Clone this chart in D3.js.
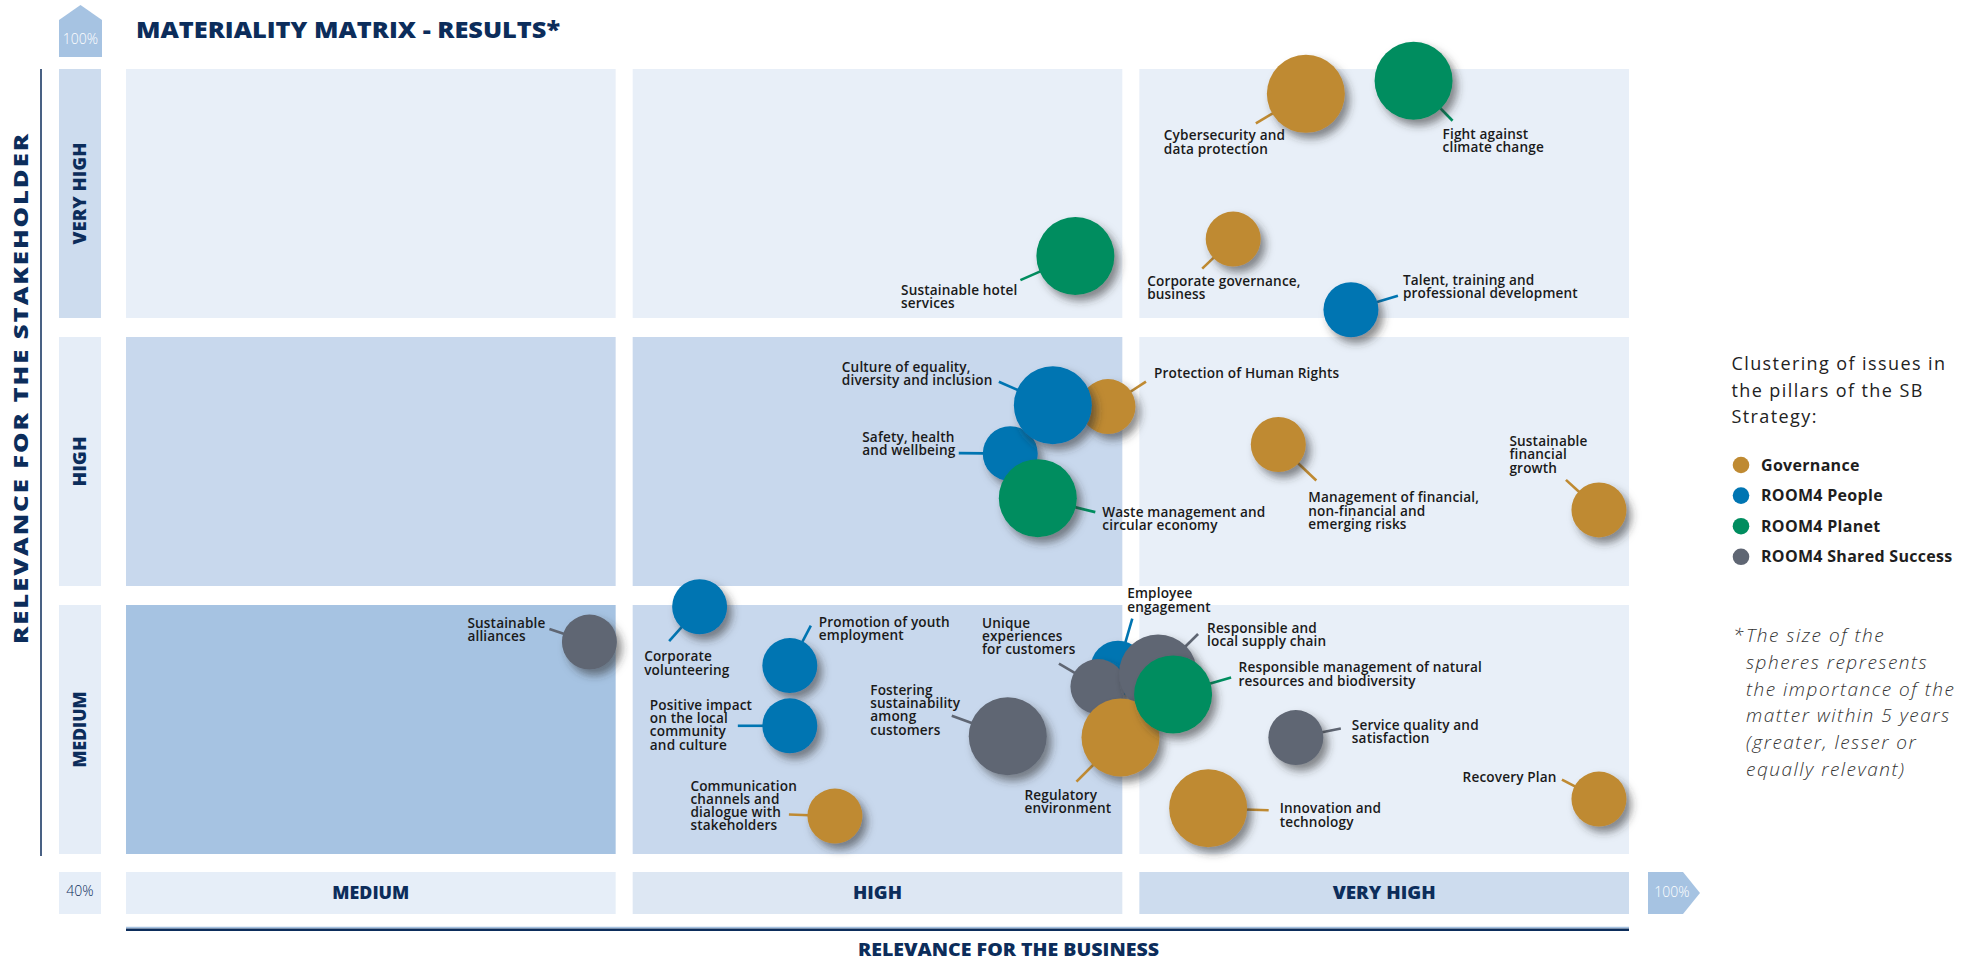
<!DOCTYPE html>
<html><head><meta charset="utf-8">
<script src="https://cdn.jsdelivr.net/npm/d3@7"></script>
<style>
body{margin:0;background:#fff;}
svg{display:block;font-family:"Open Sans","Noto Sans",sans-serif;}
</style></head><body>
<svg id="chart" width="1979" height="960"></svg>
<script>
// ---------- DATA ----------
const levels = ["MEDIUM", "HIGH", "VERY HIGH"];
const axisDomain = [40, 100];           // % relevance
const axisEndLabels = ["40%", "100%"];
const pillars = ["Governance", "ROOM4 People", "ROOM4 Planet", "ROOM4 Shared Success"];
const pillarColors = ["#bf8a32", "#0075b2", "#008d5f", "#5f6673"];

const issues = [
  "Sustainable\nalliances",
  "Corporate\nvolunteering",
  "Promotion of youth\nemployment",
  "Positive impact\non the local\ncommunity\nand culture",
  "Communication\nchannels and\ndialogue with\nstakeholders",
  "Fostering\nsustainability\namong\ncustomers",
  "Employee\nengagement",
  "Unique\nexperiences\nfor customers",
  "Responsible and\nlocal supply chain",
  "Regulatory\nenvironment",
  "Responsible management of natural\nresources and biodiversity",
  "Innovation and\ntechnology",
  "Service quality and\nsatisfaction",
  "Recovery Plan",
  "Protection of Human Rights",
  "Safety, health\nand wellbeing",
  "Culture of equality,\ndiversity and inclusion",
  "Waste management and\ncircular economy",
  "Management of financial,\nnon-financial and\nemerging risks",
  "Sustainable\nfinancial\ngrowth",
  "Sustainable hotel\nservices",
  "Corporate governance,\nbusiness",
  "Talent, training and\nprofessional development",
  "Cybersecurity and\ndata protection",
  "Fight against\nclimate change"
];
const issuePillar = [
  "ROOM4 Shared Success", "ROOM4 People", "ROOM4 People", "ROOM4 People", "Governance",
  "ROOM4 Shared Success", "ROOM4 People", "ROOM4 Shared Success", "ROOM4 Shared Success", "Governance",
  "ROOM4 Planet", "Governance", "ROOM4 Shared Success", "Governance", "Governance",
  "ROOM4 People", "ROOM4 People", "ROOM4 Planet", "Governance", "Governance",
  "ROOM4 Planet", "Governance", "ROOM4 People", "Governance", "ROOM4 Planet"
];
const businessRelevance = [58.5, 62.9, 66.5, 66.5, 68.3, 75.2, 79.6, 78.8, 81.2, 79.7, 81.8, 83.2, 86.7, 98.8, 79.2, 75.3, 77.0, 76.4, 86.0, 98.8, 77.9, 84.2, 88.9, 87.1, 91.4];
const stakeholderRelevance = [56.2, 58.9, 54.4, 49.8, 42.9, 49.0, 54.2, 52.8, 53.8, 48.9, 52.2, 43.5, 48.9, 44.2, 74.2, 70.6, 74.3, 67.2, 71.3, 66.3, 85.7, 87.0, 81.6, 98.1, 99.1];
const futureImportance = [
  "equal", "equal", "equal", "equal", "equal",
  "greater", "equal", "equal", "greater", "greater",
  "greater", "greater", "equal", "equal", "equal",
  "equal", "greater", "greater", "equal", "equal",
  "greater", "equal", "equal", "greater", "greater"
];

// annotation layout: [leader end dx, leader end dy, text dx, text dy, anchor] relative to bubble centre
const labelLayout = [
  [-40, -13, -122, -14.5, "start"],
  [-30.5, 34.5, -55.5, 54.5, "start"],
  [21, -40, 29, -39, "start"],
  [-52, 0, -140, -16, "start"],
  [-46, -1.5, -144.5, -25.5, "start"],
  [-56, -20.5, -137.5, -41.5, "start"],
  [14.3, -49.7, 9.3, -70, "start"],
  [-39, -23, -116, -59, "start"],
  [40, -39.5, 49, -40.5, "start"],
  [-44, 44, -96, 62, "start"],
  [58, -17, 65.5, -22, "start"],
  [60.5, 2, 71.5, 5, "start"],
  [45, -9, 56, -8, "start"],
  [-37, -19.5, -42.4, -17.5, "end"],
  [38, -25, 46, -29, "start"],
  [-51.5, -0.5, -148, -11.5, "start"],
  [-54, -23.5, -211, -33.5, "start"],
  [57.5, 14, 64.5, 19, "start"],
  [38, 36, 30, 58, "start"],
  [-33, -30, -89.5, -64, "start"],
  [-55, 24, -174.3, 39, "start"],
  [-31, 29.5, -86, 46.5, "start"],
  [47, -14, 52, -25, "start"],
  [-50, 29.5, -142, 46.5, "start"],
  [39, 40, 29, 58, "start"]
];

const titleText = "MATERIALITY MATRIX - RESULTS*";
const xTitle = "RELEVANCE FOR THE BUSINESS";
const yTitle = "RELEVANCE FOR THE STAKEHOLDER";
const legendTitle = ["Clustering of issues in", "the pillars of the SB", "Strategy:"];
const footnote = ["The size of the", "spheres represents", "the importance of the", "matter within 5 years", "(greater, lesser or", "equally relevant)"];

// ---------- DRAW ----------
const NAVY = "#0c2d5b";
const svg = d3.select("#chart");
const plot = {left: 126, right: 1629, top: 69, bottom: 854};

const x = d3.scaleLinear().domain(axisDomain).range([plot.left, plot.right]);
const y = d3.scaleLinear().domain(axisDomain).range([plot.bottom, plot.top]);
const col = d3.scaleBand().domain(levels).range([plot.left, plot.right]).paddingInner(0.0336);
const row = d3.scaleBand().domain(levels).range([plot.bottom, plot.top]).paddingInner(0.0709);
const color = d3.scaleOrdinal().domain(pillars).range(pillarColors);
const radius = d3.scaleOrdinal().domain(["lesser", "equal", "greater"]).range([20, 27.5, 39]);

const defs = svg.append("defs");
const f = defs.append("filter").attr("id", "shadow").attr("x", "-50%").attr("y", "-50%").attr("width", "200%").attr("height", "200%");
f.append("feDropShadow").attr("dx", 5).attr("dy", 6).attr("stdDeviation", 4)
  .attr("flood-color", "#333").attr("flood-opacity", 0.55);

// matrix cells
const cellShade = ["#a6c3e2", "#c8d8ed", "#e8eff8"];
const cells = [];
levels.forEach((cx, i) => levels.forEach((ry, j) => cells.push({cx, ry, s: Math.max(i, j)})));
svg.append("g").selectAll("rect").data(cells).join("rect")
  .attr("x", d => col(d.cx)).attr("y", d => row(d.ry))
  .attr("width", col.bandwidth()).attr("height", row.bandwidth())
  .attr("fill", d => cellShade[d.s]);

// left level labels
const leftFill = ["#e5edf7", "#e5edf7", "#cddcee"];
const leftLen = [76, 50, 102];
const lg = svg.append("g");
levels.forEach((l, j) => {
  lg.append("rect").attr("x", 59).attr("y", row(l)).attr("width", 42).attr("height", row.bandwidth()).attr("fill", leftFill[j]);
  const cy = row(l) + row.bandwidth() / 2;
  lg.append("text").attr("transform", `translate(86,${cy}) rotate(-90)`)
    .attr("text-anchor", "middle").attr("font-size", 18).attr("font-weight", 800)
    .attr("fill", NAVY).attr("textLength", leftLen[j]).attr("lengthAdjust", "spacingAndGlyphs")
    .text(l);
});

// bottom level labels
const botFill = ["#e6eef8", "#dde7f3", "#cddcee"];
const botLen = [77, 49, 103];
const bg = svg.append("g");
levels.forEach((l, i) => {
  bg.append("rect").attr("x", col(l)).attr("y", 872).attr("width", col.bandwidth()).attr("height", 42).attr("fill", botFill[i]);
  bg.append("text").attr("x", col(l) + col.bandwidth() / 2).attr("y", 899)
    .attr("text-anchor", "middle").attr("font-size", 17).attr("font-weight", 800)
    .attr("fill", NAVY).attr("textLength", botLen[i]).attr("lengthAdjust", "spacingAndGlyphs").text(l);
});
// 40% box and 100% arrows
bg.append("rect").attr("x", 59).attr("y", 872).attr("width", 42).attr("height", 42).attr("fill", "#e6eef8");
bg.append("text").attr("x", 80).attr("y", 896).attr("text-anchor", "middle").attr("font-size", 14)
  .attr("font-weight", 300).attr("fill", NAVY).text(axisEndLabels[0]);
bg.append("path").attr("d", "M1648,872H1683L1700,893L1683,914H1648Z").attr("fill", "#a6c3e2");
bg.append("text").attr("x", 1672).attr("y", 897).attr("text-anchor", "middle").attr("font-size", 14)
  .attr("font-weight", 300).attr("fill", "#fff").text(axisEndLabels[1]);
bg.append("path").attr("d", "M59,57V20L80.5,5L102,20V57Z").attr("fill", "#a6c3e2");
bg.append("text").attr("x", 80.5).attr("y", 44).attr("text-anchor", "middle").attr("font-size", 14)
  .attr("font-weight", 300).attr("fill", "#fff").text(axisEndLabels[1]);

// axis lines
svg.append("line").attr("x1", 41).attr("x2", 41).attr("y1", 69).attr("y2", 856).attr("stroke", NAVY).attr("stroke-width", 1.5);
svg.append("line").attr("x1", plot.left).attr("x2", plot.right).attr("y1", 927.5).attr("y2", 927.5).attr("stroke", "#a6c3e2").attr("stroke-width", 1.5);
svg.append("line").attr("x1", plot.left).attr("x2", plot.right).attr("y1", 929.8).attr("y2", 929.8).attr("stroke", NAVY).attr("stroke-width", 2.5);

// titles
svg.append("text").attr("x", 136).attr("y", 38).attr("font-size", 22).attr("font-weight", 800)
  .attr("fill", NAVY).attr("textLength", 424).attr("lengthAdjust", "spacingAndGlyphs").text(titleText);
svg.append("text").attr("x", 1008.5).attr("y", 956).attr("text-anchor", "middle").attr("font-size", 17)
  .attr("font-weight", 800).attr("fill", NAVY).attr("textLength", 301).attr("lengthAdjust", "spacingAndGlyphs").text(xTitle);
svg.append("text").attr("transform", "translate(27.5,388) rotate(-90)").attr("text-anchor", "middle")
  .attr("font-size", 20).attr("font-weight", 800).attr("fill", NAVY).attr("letter-spacing", 1.5)
  .attr("textLength", 512).attr("lengthAdjust", "spacingAndGlyphs").text(yTitle);

// bubbles
const data = issues.map((name, i) => ({
  name, pillar: issuePillar[i], bx: businessRelevance[i], sy: stakeholderRelevance[i],
  imp: futureImportance[i], lay: labelLayout[i]
}));
data.forEach(d => {
  d.cx = x(d.bx); d.cy = y(d.sy); d.r = radius(d.imp);
  const [ex, ey] = d.lay;
  const len = Math.hypot(ex, ey);
  d.x1 = d.cx + ex / len * (d.r - 2); d.y1 = d.cy + ey / len * (d.r - 2);
  d.x2 = d.cx + ex; d.y2 = d.cy + ey;
});

svg.append("g").selectAll("line").data(data).join("line")
  .attr("x1", d => d.x1).attr("y1", d => d.y1).attr("x2", d => d.x2).attr("y2", d => d.y2)
  .attr("stroke", d => color(d.pillar)).attr("stroke-width", 2.6);

svg.append("g").selectAll("circle").data(data).join("circle")
  .attr("cx", d => d.cx).attr("cy", d => d.cy).attr("r", d => d.r)
  .attr("fill", d => color(d.pillar)).attr("filter", "url(#shadow)");

const lab = svg.append("g").attr("font-size", 13.6).attr("font-weight", 600)
  .attr("letter-spacing", 0.15).attr("fill", "#1a1a1a");
data.forEach(d => {
  const t = lab.append("text").attr("x", d.cx + d.lay[2]).attr("y", d.cy + d.lay[3]).attr("text-anchor", d.lay[4]);
  d.name.split("\n").forEach((ln, k) => {
    t.append("tspan").attr("x", d.cx + d.lay[2]).attr("dy", k === 0 ? 0 : 13.3).text(ln);
  });
});

// legend
const leg = svg.append("g");
legendTitle.forEach((ln, k) => {
  leg.append("text").attr("x", 1731.5).attr("y", 370 + k * 26.5).attr("font-size", 18)
    .attr("fill", "#222").attr("letter-spacing", 1.4).text(ln);
});
pillars.forEach((p, k) => {
  const cy = 465 + k * 30.6;
  leg.append("circle").attr("cx", 1741).attr("cy", cy).attr("r", 8.3).attr("fill", color(p));
  leg.append("text").attr("x", 1761).attr("y", cy + 5.5).attr("font-size", 16).attr("font-weight", 700)
    .attr("letter-spacing", 0.3).attr("fill", "#1e1e1e").text(p);
});
leg.append("text").attr("x", 1733).attr("y", 642).attr("font-size", 19).attr("font-style", "italic")
  .attr("font-weight", 300).attr("fill", "#333").text("*");
footnote.forEach((ln, k) => {
  leg.append("text").attr("x", 1746).attr("y", 642 + k * 26.8).attr("font-size", 19).attr("font-style", "italic")
    .attr("font-weight", 300).attr("fill", "#333").attr("letter-spacing", 1.5).text(ln);
});
</script>
</body></html>
